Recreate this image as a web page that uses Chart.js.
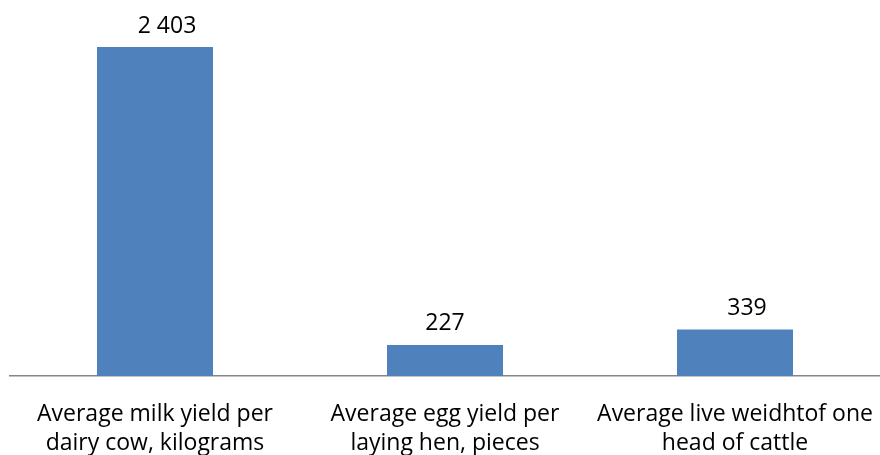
<!DOCTYPE html>
<html><head><meta charset="utf-8">
<script src="https://cdn.jsdelivr.net/npm/chart.js@4"></script>
<style>html,body{margin:0;padding:0;background:#fff}#wrap{width:880px;height:455px}</style>
</head><body><div id="wrap"><canvas id="c"></canvas></div>
<script>
const categories = [
  ["Average milk yield per", "dairy cow, kilograms"],
  ["Average egg yield per", "laying hen, pieces"],
  ["Average live weidhtof one", "head of cattle"]
];
const values = [2403, 227, 339];
const valueLabels = ["2 403", "227", "339"];

const FONT = "'Open Sans', Lato, sans-serif";

const labelPlugin = {
  id: 'valueLabels',
  afterDatasetsDraw(chart, args, opts) {
    const ctx = chart.ctx;
    const meta = chart.getDatasetMeta(0);
    ctx.save();
    ctx.font = '23px ' + FONT;
    ctx.fillStyle = '#000';
    ctx.textAlign = 'center';
    ctx.textBaseline = 'middle';
    meta.data.forEach((bar, i) => {
      const dx = (opts.dx || [])[i] || 0;
      ctx.fillText(valueLabels[i], bar.x + dx, bar.y - 21);
    });
    ctx.restore();
  }
};

new Chart(document.getElementById('c'), {
  type: 'bar',
  data: {
    labels: categories,
    datasets: [{
      data: values,
      backgroundColor: '#4F81BD',
      borderWidth: 0,
      barPercentage: 0.4,
      categoryPercentage: 1.0
    }]
  },
  options: {
    responsive: true,
    maintainAspectRatio: false,
    animation: false,
    layout: { padding: { top: 47, left: 10, right: 0, bottom: 0 } },
    plugins: {
      legend: { display: false },
      tooltip: { enabled: false },
      valueLabels: { dx: [12, 0, 12] }
    },
    scales: {
      x: {
        grid: { display: false, drawTicks: false },
        border: { display: true, color: '#868686', width: 1.5 },
        ticks: {
          color: '#000',
          font: { family: FONT, size: 23, lineHeight: 1.26 },
          padding: 24,
          maxRotation: 0,
          autoSkip: false
        },
        afterFit(scale) {
          scale.height = 79;
          scale.paddingLeft = 0;
          scale.paddingRight = 0;
        }
      },
      y: {
        display: false,
        min: 0,
        max: 2403
      }
    }
  },
  plugins: [labelPlugin]
});
</script>
</body></html>
